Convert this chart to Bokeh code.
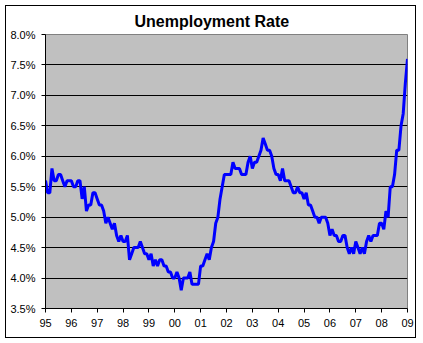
from bokeh.plotting import figure
from bokeh.models import (FixedTicker, PrintfTickFormatter, Range1d,
                          ColumnDataSource)
from bokeh.embed import file_html
from bokeh.resources import INLINE

# Monthly US unemployment rate (%), Jan..Dec of each year
r1995 = [5.6, 5.4, 5.4, 5.8, 5.6, 5.6, 5.7, 5.7, 5.6, 5.5, 5.6, 5.6]
r1996 = [5.6, 5.5, 5.5, 5.6, 5.6, 5.3, 5.5, 5.1, 5.2, 5.2, 5.4, 5.4]
r1997 = [5.3, 5.2, 5.2, 5.1, 4.9, 5.0, 4.9, 4.8, 4.9, 4.7, 4.6, 4.7]
r1998 = [4.6, 4.6, 4.7, 4.3, 4.4, 4.5, 4.5, 4.5, 4.6, 4.5, 4.4, 4.4]
r1999 = [4.3, 4.4, 4.2, 4.3, 4.2, 4.3, 4.3, 4.2, 4.2, 4.1, 4.1, 4.0]
r2000 = [4.0, 4.1, 4.0, 3.8, 4.0, 4.0, 4.0, 4.1, 3.9, 3.9, 3.9, 3.9]
r2001 = [4.2, 4.2, 4.3, 4.4, 4.3, 4.5, 4.6, 4.9, 5.0, 5.3, 5.5, 5.7]
r2002 = [5.7, 5.7, 5.7, 5.9, 5.8, 5.8, 5.8, 5.7, 5.7, 5.7, 5.9, 6.0]
r2003 = [5.8, 5.9, 5.9, 6.0, 6.1, 6.3, 6.2, 6.1, 6.1, 6.0, 5.8, 5.7]
r2004 = [5.7, 5.6, 5.8, 5.6, 5.6, 5.6, 5.5, 5.4, 5.4, 5.5, 5.4, 5.4]
r2005 = [5.3, 5.4, 5.2, 5.2, 5.1, 5.0, 5.0, 4.9, 5.0, 5.0, 5.0, 4.9]
r2006 = [4.7, 4.8, 4.7, 4.7, 4.6, 4.6, 4.7, 4.7, 4.5, 4.4, 4.5, 4.4]
r2007 = [4.6, 4.5, 4.4, 4.5, 4.4, 4.6, 4.7, 4.6, 4.7, 4.7, 4.7, 4.9]
r2008 = [4.9, 4.8, 5.1, 5.0, 5.5, 5.5, 5.7, 6.1, 6.1, 6.5, 6.7, 7.2]
r2009 = [7.6]

years = list(range(1995, 2010))
year_labels = ["95", "96", "97", "98", "99", "00", "01", "02", "03", "04",
               "05", "06", "07", "08", "09"]
y_ticks = [3.5, 4.0, 4.5, 5.0, 5.5, 6.0, 6.5, 7.0, 7.5, 8.0]
title_text = "Unemployment Rate"

series = [r1995, r1996, r1997, r1998, r1999, r2000, r2001, r2002, r2003,
          r2004, r2005, r2006, r2007, r2008, r2009]
xs, ys = [], []
for yr, vals in zip(years, series):
    for m, v in enumerate(vals):
        xs.append(yr + m / 12.0)
        ys.append(v)
src = ColumnDataSource(dict(x=xs, y=ys))

FONT = "Liberation Sans"

p = figure(output_backend="svg", toolbar_location=None,
           frame_width=362, frame_height=274,
           min_border_left=39, min_border_right=8,
           min_border_top=27, min_border_bottom=29,
           x_range=Range1d(years[0], years[-1]),
           y_range=Range1d(y_ticks[0], y_ticks[-1]),
           background_fill_color="#C0C0C0", border_fill_color="white")

p.line("x", "y", source=src, line_color="#0000FF", line_width=3)

p.outline_line_color = "#808080"
p.outline_line_width = 1

p.xgrid.visible = False
p.ygrid.ticker = FixedTicker(ticks=y_ticks[1:-1])
p.ygrid.grid_line_color = "black"
p.ygrid.grid_line_width = 1

for ax in (p.xaxis[0], p.yaxis[0]):
    ax.axis_line_color = "black"
    ax.major_tick_line_color = "black"
    ax.major_tick_in = 0
    ax.major_tick_out = 4
    ax.minor_tick_line_color = None
    ax.major_label_text_font = FONT
    ax.major_label_text_font_size = "11px"
    ax.major_label_text_color = "black"
    ax.major_label_standoff = 6

p.xaxis.ticker = FixedTicker(ticks=years)
p.xaxis.major_label_overrides = {yr: lab for yr, lab in zip(years, year_labels)}
p.yaxis.ticker = FixedTicker(ticks=y_ticks)
p.yaxis.formatter = PrintfTickFormatter(format="%.1f%%")

p.title.text = title_text
p.title.text_font = FONT
p.title.text_font_size = "16px"
p.title.text_font_style = "bold"
p.title.text_color = "black"
p.title.align = "left"
p.title.offset = 89
p.title.vertical_align = "bottom"
p.title.standoff = 9

p.styles = {"border": "1px solid black", "margin-left": "5px",
            "margin-top": "5px"}

open("out.html", "w").write(file_html(p, INLINE))
